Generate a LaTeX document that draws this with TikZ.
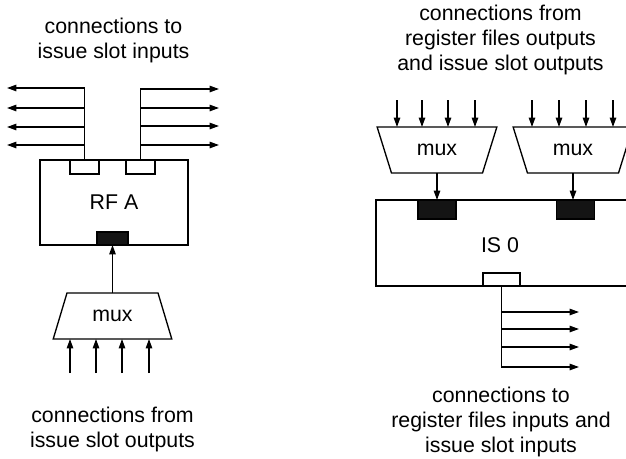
\documentclass[tikz,border=0pt]{standalone}
\usepackage{fontspec}
\setmainfont{Liberation Sans}
\usetikzlibrary{shapes.geometric,arrows.meta}
\begin{document}
\begin{tikzpicture}[x=0.75pt,y=-0.75pt, line width=1pt,
  every node/.style={outer sep=0pt, inner sep=0pt, font=\fontsize{16}{18.75}\selectfont},
  unitbox/.style={draw, rectangle},
  wport/.style={draw, fill=white, rectangle},
  bport/.style={draw, fill=black!92, rectangle},
  muxup/.style={draw, trapezium, trapezium stretches=true,
    trapezium left angle=62.4, trapezium right angle=62.4,
    minimum width=89.25pt, minimum height=34.5pt},
  muxdown/.style={draw, trapezium, trapezium stretches=true,
    trapezium left angle=118.5, trapezium right angle=118.5,
    minimum width=90pt, minimum height=34.5pt},
  arr/.style={-{Triangle[length=7pt,width=4.8pt]}},
  lbl/.style={align=center}
]
\path[use as bounding box, fill=white] (0,0) rectangle (626,458);

% ---------- left: register file ----------
\node[lbl] (tl) at (113.5,40.5) {connections to\\issue slot inputs};
\node[unitbox, minimum width=111pt, minimum height=63.75pt] (rfa) at (114,202.5) {RF A};
\node[wport, minimum width=21.75pt, minimum height=10.5pt] (pL) at (84.5,167) {};
\node[wport, minimum width=21.75pt, minimum height=10.5pt] (pR) at (140.5,167) {};
\node[bport, minimum width=23.25pt, minimum height=9.75pt] (pB) at (112.5,238.5) {};
\node[muxup] (muxA) at (112.5,316) {mux};
\node[lbl] (bl) at (112.5,429.5) {connections from\\issue slot outputs};

\coordinate (la1) at (7,88);  \coordinate (la2) at (7,108);
\coordinate (la3) at (7,127); \coordinate (la4) at (7,145);
\coordinate (ra1) at (219,89); \coordinate (ra2) at (219,108);
\coordinate (ra3) at (219,126); \coordinate (ra4) at (219,145);
\draw[arr] (pL.north) |- (la1);
\draw[arr] (pR.north) |- (ra1);
\foreach \i in {2,3,4}{
  \draw[arr] (pL.north |- la\i) -- (la\i);
  \draw[arr] (pR.north |- ra\i) -- (ra\i);
}
\draw[arr] (muxA.top side) -- (pB.south);
\coordinate (mi1) at (70,373);  \coordinate (mi2) at (96,373);
\coordinate (mi3) at (122,373); \coordinate (mi4) at (149,373);
\foreach \i in {1,2,3,4}{
  \draw[arr] (mi\i) -- (mi\i |- muxA.bottom side);
}

% ---------- right: issue slot ----------
\node[lbl] (tr) at (500.5,40) {connections from\\register files outputs\\and issue slot outputs};
\node[muxdown] (muxB1) at (437,150) {mux};
\node[muxdown] (muxB2) at (573,150) {mux};
\node[unitbox, minimum width=228pt, minimum height=64.5pt] (is0) at (528,243) {};
\node (is0lbl) at (500,245) {IS 0};
\node[bport, minimum width=28.5pt, minimum height=14.25pt] (bp1) at (437,209.5) {};
\node[bport, minimum width=28.5pt, minimum height=14.25pt] (bp2) at (575.5,209.5) {};
\node[wport, minimum width=27.75pt, minimum height=9.75pt] (wp) at (501.5,279.5) {};
\node[lbl] (br) at (501,422) {connections to\\register files inputs and\\issue slot inputs};

\coordinate (bi1) at (397,100); \coordinate (bi2) at (422,100);
\coordinate (bi3) at (448,100); \coordinate (bi4) at (475,100);
\coordinate (ci1) at (532,100); \coordinate (ci2) at (559,100);
\coordinate (ci3) at (586,100); \coordinate (ci4) at (613,100);
\foreach \i in {1,2,3,4}{
  \draw[arr] (bi\i) -- (bi\i |- muxB1.top side);
  \draw[arr] (ci\i) -- (ci\i |- muxB2.top side);
}
\draw[arr] (muxB1.bottom side) -- (muxB1.bottom side |- is0.north);
\draw[arr] (muxB2.bottom side) -- (muxB2.bottom side |- is0.north);

\coordinate (oa1) at (579,312); \coordinate (oa2) at (579,329);
\coordinate (oa3) at (579,347); \coordinate (oa4) at (579,367);
\draw[arr] (wp.south) |- (oa4);
\foreach \i in {1,2,3}{
  \draw[arr] (wp.south |- oa\i) -- (oa\i);
}
\end{tikzpicture}
\end{document}
